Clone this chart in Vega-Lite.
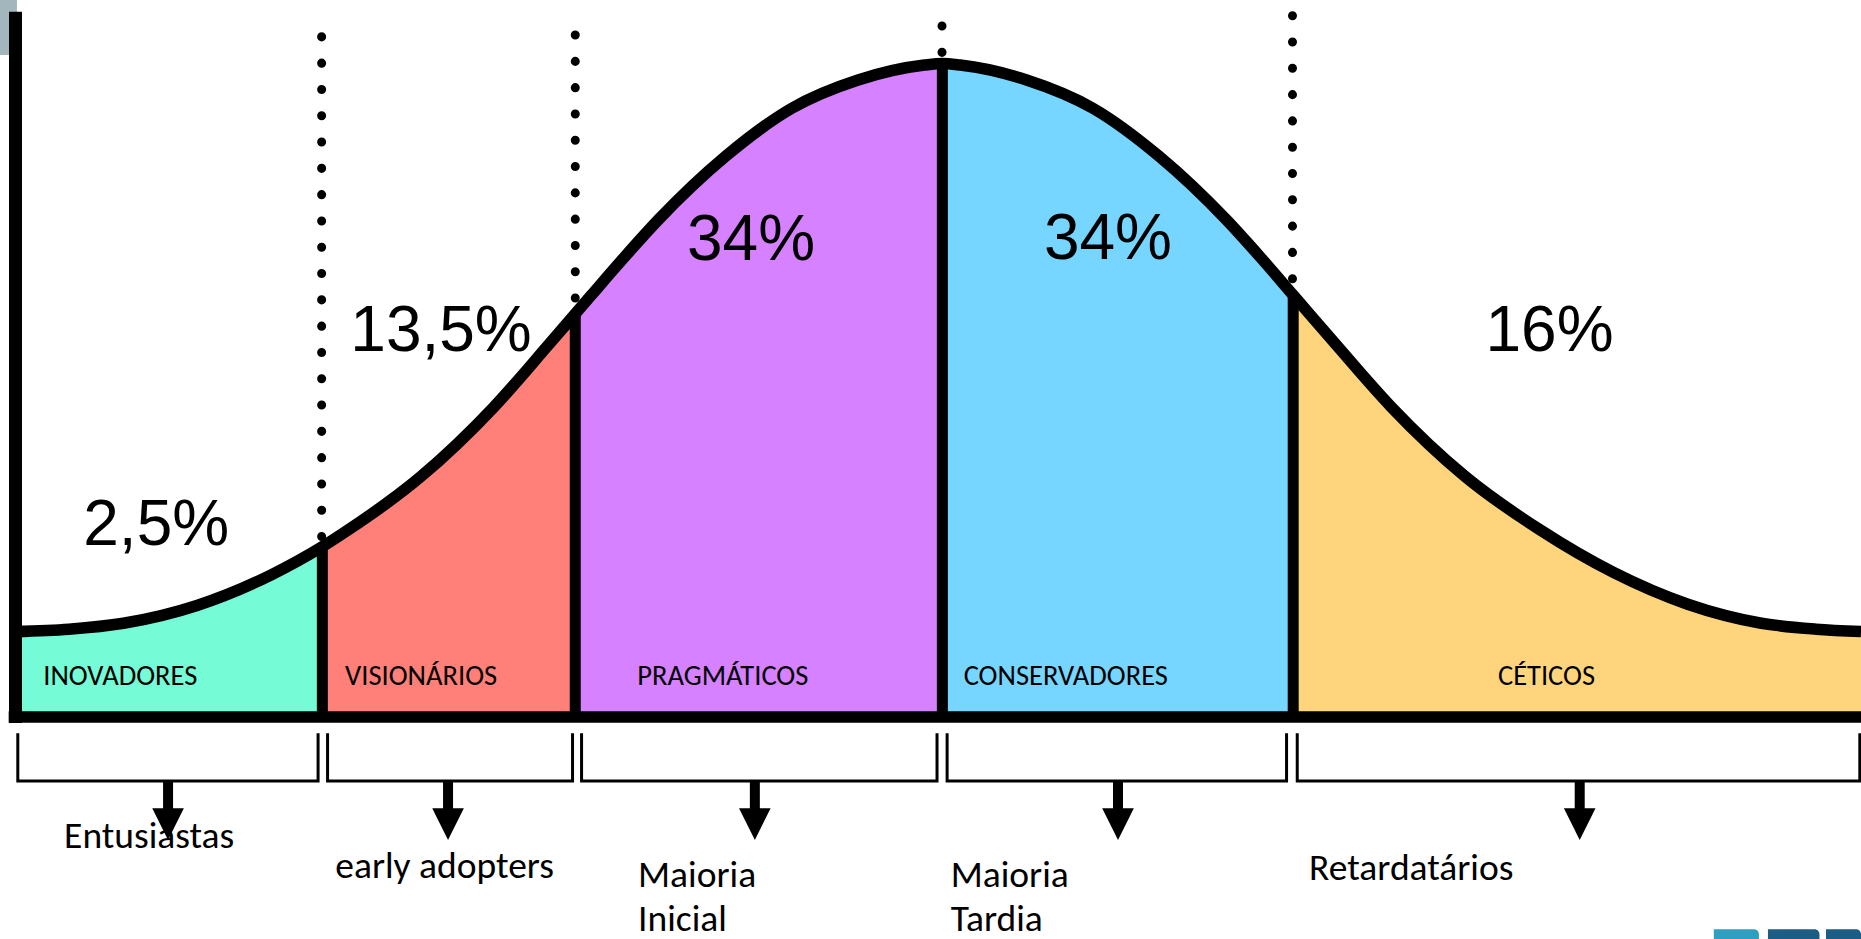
{
  "$schema": "https://vega.github.io/schema/vega-lite/v6.json",
  "width": 1861,
  "height": 939,
  "padding": 0,
  "autosize": {"type": "none"},
  "background": "white",
  "config": {"view": {"stroke": null}},
  "resolve": {"scale": {"color": "independent"}},
  "datasets": {
    "corner": [{"x": 0, "x2": 14.3, "v": 604, "v2": 557.7}],
    "logo": [
      {"part": "a", "x": 1444, "x2": 1482, "v": -178.7, "v2": -187},
      {"part": "b", "x": 1489.6, "x2": 1533, "v": -178.7, "v2": -187},
      {"part": "c", "x": 1538.5, "x2": 1568, "v": -178.7, "v2": -187}
    ],
    "fill": [
      {"seg": "INOVADORES", "x": 13, "v": 72},
      {"seg": "INOVADORES", "x": 58, "v": 74},
      {"seg": "INOVADORES", "x": 104, "v": 79},
      {"seg": "INOVADORES", "x": 166, "v": 94},
      {"seg": "INOVADORES", "x": 229, "v": 120},
      {"seg": "INOVADORES", "x": 271.6, "v": 143.5},
      {"seg": "VISIONÁRIOS", "x": 271.6, "v": 143.5},
      {"seg": "VISIONÁRIOS", "x": 291, "v": 156},
      {"seg": "VISIONÁRIOS", "x": 354, "v": 202},
      {"seg": "VISIONÁRIOS", "x": 416, "v": 261},
      {"seg": "VISIONÁRIOS", "x": 462, "v": 313.3},
      {"seg": "VISIONÁRIOS", "x": 484.7, "v": 339.6},
      {"seg": "PRAGMÁTICOS", "x": 484.7, "v": 339.6},
      {"seg": "PRAGMÁTICOS", "x": 498.3, "v": 355.4},
      {"seg": "PRAGMÁTICOS", "x": 526.4, "v": 387.7},
      {"seg": "PRAGMÁTICOS", "x": 554.5, "v": 418.6},
      {"seg": "PRAGMÁTICOS", "x": 611, "v": 472},
      {"seg": "PRAGMÁTICOS", "x": 667, "v": 512.7},
      {"seg": "PRAGMÁTICOS", "x": 723, "v": 536.6},
      {"seg": "PRAGMÁTICOS", "x": 779, "v": 549.2},
      {"seg": "PRAGMÁTICOS", "x": 794, "v": 550.5},
      {"seg": "CONSERVADORES", "x": 794, "v": 550.5},
      {"seg": "CONSERVADORES", "x": 809, "v": 549.2},
      {"seg": "CONSERVADORES", "x": 865, "v": 536.6},
      {"seg": "CONSERVADORES", "x": 921, "v": 512.7},
      {"seg": "CONSERVADORES", "x": 977, "v": 472},
      {"seg": "CONSERVADORES", "x": 1033.5, "v": 418.6},
      {"seg": "CONSERVADORES", "x": 1061.6, "v": 387.7},
      {"seg": "CONSERVADORES", "x": 1089.6, "v": 355.4},
      {"seg": "CÉTICOS", "x": 1089.6, "v": 355.4},
      {"seg": "CÉTICOS", "x": 1126, "v": 313.3},
      {"seg": "CÉTICOS", "x": 1172, "v": 261.4},
      {"seg": "CÉTICOS", "x": 1234, "v": 203},
      {"seg": "CÉTICOS", "x": 1297, "v": 158},
      {"seg": "CÉTICOS", "x": 1359, "v": 122},
      {"seg": "CÉTICOS", "x": 1422, "v": 95},
      {"seg": "CÉTICOS", "x": 1484, "v": 79},
      {"seg": "CÉTICOS", "x": 1530, "v": 74},
      {"seg": "CÉTICOS", "x": 1568, "v": 72}
    ],
    "curve": [
      {"x": 13, "v": 72}, {"x": 58, "v": 74}, {"x": 104, "v": 79}, {"x": 166, "v": 94},
      {"x": 229, "v": 120}, {"x": 271.6, "v": 143.5}, {"x": 291, "v": 156}, {"x": 354, "v": 202},
      {"x": 416, "v": 261}, {"x": 462, "v": 313.3}, {"x": 484.7, "v": 339.6}, {"x": 498.3, "v": 355.4},
      {"x": 526.4, "v": 387.7}, {"x": 554.5, "v": 418.6}, {"x": 611, "v": 472}, {"x": 667, "v": 512.7},
      {"x": 723, "v": 536.6}, {"x": 779, "v": 549.2}, {"x": 794, "v": 550.5}, {"x": 809, "v": 549.2},
      {"x": 865, "v": 536.6}, {"x": 921, "v": 512.7}, {"x": 977, "v": 472}, {"x": 1033.5, "v": 418.6},
      {"x": 1061.6, "v": 387.7}, {"x": 1089.6, "v": 355.4}, {"x": 1126, "v": 313.3}, {"x": 1172, "v": 261.4},
      {"x": 1234, "v": 203}, {"x": 1297, "v": 158}, {"x": 1359, "v": 122}, {"x": 1422, "v": 95},
      {"x": 1484, "v": 79}, {"x": 1530, "v": 74}, {"x": 1568, "v": 72}
    ],
    "dividers": [
      {"x": 271.6, "v": 143.5}, {"x": 484.7, "v": 339.6}, {"x": 794, "v": 550.5}, {"x": 1089.6, "v": 355.4}
    ],
    "dotted": [
      {"x": 271, "v": 573, "v2": 151.5},
      {"x": 484.7, "v": 574.5, "v2": 352.4},
      {"x": 793.7, "v": 582.1, "v2": 559.4},
      {"x": 1089, "v": 590.8, "v2": 368.7}
    ],
    "yaxis": [{"x": 13.06, "v": 594, "v2": -5}],
    "xaxis": [{"x": 7.3, "x2": 1568, "v": 0}],
    "pct": [
      {"label": "2,5%", "x": 131.6, "v": 145},
      {"label": "13,5%", "x": 371.6, "v": 308.3},
      {"label": "34%", "x": 632.8, "v": 385},
      {"label": "34%", "x": 933.5, "v": 385.5},
      {"label": "16%", "x": 1305.6, "v": 308}
    ],
    "cats": [
      {"label": "INOVADORES", "x": 101.3, "v": 27},
      {"label": "VISIONÁRIOS", "x": 354.8, "v": 27},
      {"label": "PRAGMÁTICOS", "x": 609, "v": 27},
      {"label": "CONSERVADORES", "x": 898, "v": 27},
      {"label": "CÉTICOS", "x": 1303, "v": 27}
    ],
    "brackets": [
      {"id": 1, "ord": 1, "x": 15, "v": -13.6}, {"id": 1, "ord": 2, "x": 15, "v": -54}, {"id": 1, "ord": 3, "x": 268, "v": -54}, {"id": 1, "ord": 4, "x": 268, "v": -13.6},
      {"id": 2, "ord": 1, "x": 276, "v": -13.6}, {"id": 2, "ord": 2, "x": 276, "v": -54}, {"id": 2, "ord": 3, "x": 482.4, "v": -54}, {"id": 2, "ord": 4, "x": 482.4, "v": -13.6},
      {"id": 3, "ord": 1, "x": 490, "v": -13.6}, {"id": 3, "ord": 2, "x": 490, "v": -54}, {"id": 3, "ord": 3, "x": 789.5, "v": -54}, {"id": 3, "ord": 4, "x": 789.5, "v": -13.6},
      {"id": 4, "ord": 1, "x": 798, "v": -13.6}, {"id": 4, "ord": 2, "x": 798, "v": -54}, {"id": 4, "ord": 3, "x": 1084, "v": -54}, {"id": 4, "ord": 4, "x": 1084, "v": -13.6},
      {"id": 5, "ord": 1, "x": 1093, "v": -13.6}, {"id": 5, "ord": 2, "x": 1093, "v": -54}, {"id": 5, "ord": 3, "x": 1567, "v": -54}, {"id": 5, "ord": 4, "x": 1567, "v": -13.6}
    ],
    "arrows": [
      {"x": 141.6, "v": -54, "v2": -78, "head": -90.2},
      {"x": 377.5, "v": -54, "v2": -78, "head": -90.2},
      {"x": 636, "v": -54, "v2": -78, "head": -90.2},
      {"x": 942, "v": -54, "v2": -78, "head": -90.2},
      {"x": 1331, "v": -54, "v2": -78, "head": -90.2}
    ],
    "names": [
      {"label": "Entusiastas", "x": 54, "v": -110.6},
      {"label": "early adopters", "x": 282.5, "v": -136},
      {"label": "Maioria\nInicial", "x": 537.6, "v": -143},
      {"label": "Maioria\nTardia", "x": 801, "v": -143},
      {"label": "Retardatários", "x": 1103, "v": -137.5}
    ]
  },
  "encoding": {
    "x": {"field": "x", "type": "quantitative", "scale": {"domain": [0, 1568], "nice": false, "zero": false}, "axis": null},
    "y": {"field": "v", "type": "quantitative", "scale": {"domain": [-187, 604], "nice": false, "zero": false}, "axis": null}
  },
  "layer": [
    {
      "data": {"name": "corner"},
      "mark": {"type": "rect", "color": "#a4b6bd"},
      "encoding": {"x2": {"field": "x2"}, "y2": {"field": "v2"}}
    },
    {
      "data": {"name": "fill"},
      "mark": {"type": "area", "interpolate": "monotone", "opacity": 1},
      "encoding": {
        "y2": {"datum": 0},
        "color": {"field": "seg", "type": "nominal", "legend": null,
          "scale": {"domain": ["INOVADORES", "VISIONÁRIOS", "PRAGMÁTICOS", "CONSERVADORES", "CÉTICOS"],
                    "range": ["#75fbd5", "#ff7f79", "#d681ff", "#76d6ff", "#fed57c"]}}
      }
    },
    {
      "data": {"name": "dividers"},
      "mark": {"type": "rule", "color": "black", "strokeWidth": 11},
      "encoding": {"y2": {"datum": 0}}
    },
    {
      "data": {"name": "curve"},
      "mark": {"type": "line", "interpolate": "monotone", "color": "black", "strokeWidth": 11.5},
      "encoding": {}
    },
    {
      "data": {"name": "dotted"},
      "mark": {"type": "rule", "color": "black", "strokeWidth": 9, "strokeCap": "round", "strokeDash": [0.1, 26.2]},
      "encoding": {"y2": {"field": "v2"}}
    },
    {
      "data": {"name": "yaxis"},
      "mark": {"type": "rule", "color": "black", "strokeWidth": 13},
      "encoding": {"y2": {"field": "v2"}}
    },
    {
      "data": {"name": "xaxis"},
      "mark": {"type": "rule", "color": "black", "strokeWidth": 11.7},
      "encoding": {"x2": {"field": "x2"}}
    },
    {
      "data": {"name": "pct"},
      "mark": {"type": "text", "font": "Liberation Sans", "fontSize": 64, "align": "center", "baseline": "alphabetic", "color": "black"},
      "encoding": {"text": {"field": "label"}}
    },
    {
      "data": {"name": "cats"},
      "mark": {"type": "text", "font": "Carlito, Lato", "fontSize": 28.5, "align": "center", "baseline": "alphabetic", "color": "black"},
      "encoding": {"text": {"field": "label"}}
    },
    {
      "data": {"name": "brackets"},
      "mark": {"type": "line", "color": "black", "strokeWidth": 3, "strokeJoin": "miter"},
      "encoding": {"detail": {"field": "id"}, "order": {"field": "ord"}}
    },
    {
      "data": {"name": "names"},
      "mark": {"type": "text", "font": "Carlito, Lato", "fontSize": 37.5, "align": "left", "baseline": "alphabetic", "lineBreak": "\n", "lineHeight": 44, "color": "black"},
      "encoding": {"text": {"field": "label"}}
    },
    {
      "data": {"name": "arrows"},
      "mark": {"type": "rule", "color": "black", "strokeWidth": 10},
      "encoding": {"y2": {"field": "v2"}}
    },
    {
      "data": {"name": "arrows"},
      "mark": {"type": "point", "shape": "M-1,-1L1,-1L0,1Z", "filled": true, "color": "black", "size": 1000, "opacity": 1},
      "encoding": {"y": {"field": "head", "type": "quantitative"}}
    },
    {
      "data": {"name": "logo"},
      "mark": {"type": "rect", "cornerRadiusTopRight": 6},
      "encoding": {
        "x2": {"field": "x2"}, "y2": {"field": "v2"},
        "color": {"field": "part", "type": "nominal", "legend": null, "scale": {"domain": ["a", "b", "c"], "range": ["#2f9fc1", "#1b5d85", "#1b5d85"]}}
      }
    }
  ]
}
